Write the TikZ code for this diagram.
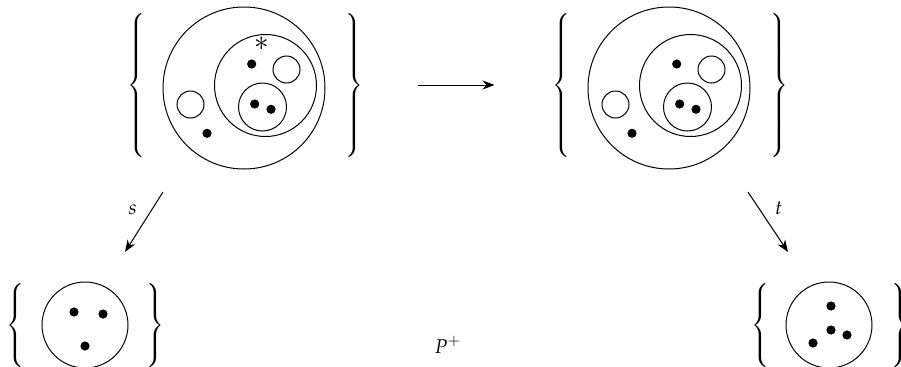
\documentclass[tikz,border=0pt]{standalone}
\usepackage{amsmath,amssymb}
\usepackage{mathpazo}
\DeclareSymbolFont{largesymbols}{OMX}{cmex}{m}{n}
\DeclareMathDelimiter{\lbrace}{\mathopen}{symbols}{"66}{largesymbols}{"08}
\DeclareMathDelimiter{\rbrace}{\mathclose}{symbols}{"67}{largesymbols}{"09}
\usetikzlibrary{positioning,arrows.meta,quotes}

\newcommand{\lset}[1]{$\left\lbrace\vrule height #1 depth #1 width 0pt\right.$}
\newcommand{\rset}[1]{$\left.\vrule height #1 depth #1 width 0pt\right\rbrace$}

\begin{document}
\begin{tikzpicture}[x=0.5pt, y=0.5pt, ->, >={Stealth[length=6pt, width=4.5pt]}, set/.style = {circle, draw, line width=0.5pt, inner sep=0pt, minimum size=81pt}, sub/.style = {circle, draw, line width=0.5pt, inner sep=0pt}, hole/.style = {sub, minimum size=13.5pt}, elem/.style = {circle, fill, inner sep=0pt, minimum size=4.6pt}, brace/.style = {inner sep=0pt}, every edge/.append style={line width=0.5pt}]

\useasboundingbox (0,0) rectangle (901,366);

\begin{scope}[shift = {(244,278)}]
\node[set] (L) at (0,0) {};
\node[sub, minimum size=51pt] (Lm) at (21.5,2.5) {};
\node[sub, minimum size=24pt] (Li) at (18.5,-19) {};
\node[hole] (Lh1) at (42.5,18.5) {};
\node[hole] (Lh2) at (-53.5,-16.5) {};
\node[elem] (Le1) at (7.7,24) {};
\node[elem] (Le2) at (10.7,-16) {};
\node[elem] (Le3) at (27,-21.3) {};
\node[elem] (Le4) at (-37,-45.3) {};
\node[inner sep=0pt, scale=1.4] (Lstar) at (17.7,44.5) {$*$};
\node[brace] (Llb) at (-106.5,2) {\lset{34pt}};
\node[brace] (Lrb) at (109.5,2) {\rset{34pt}};
\end{scope}

\begin{scope}[shift = {(669,278)}]
\node[set] (R) at (0,0) {};
\node[sub, minimum size=51pt] (Rm) at (21.5,2.5) {};
\node[sub, minimum size=24pt] (Ri) at (18.5,-19) {};
\node[hole] (Rh1) at (42.5,18.5) {};
\node[hole] (Rh2) at (-53.5,-16.5) {};
\node[elem] (Re1) at (7.7,24) {};
\node[elem] (Re2) at (10.7,-16) {};
\node[elem] (Re3) at (27,-21.3) {};
\node[elem] (Re4) at (-37,-45.3) {};
\node[brace] (Rlb) at (-106.5,2) {\lset{34pt}};
\node[brace] (Rrb) at (109.5,2) {\rset{34pt}};
\end{scope}

\begin{scope}[shift = {(85,41)}]
\node[sub, minimum size=43pt] (S) at (0,0) {};
\node[elem] (Se1) at (-11,13) {};
\node[elem] (Se2) at (18,11) {};
\node[elem] (Se3) at (0,-21) {};
\node[brace] (Slb) at (-68,-1) {\lset{19pt}};
\node[brace] (Srb) at (69,-1) {\rset{19pt}};
\end{scope}

\begin{scope}[shift = {(829,41)}]
\node[sub, minimum size=43pt] (T) at (0,0) {};
\node[elem] (Te1) at (2,19) {};
\node[elem] (Te2) at (2,-5) {};
\node[elem] (Te3) at (18,-10) {};
\node[elem] (Te4) at (-16,-18) {};
\node[brace] (Tlb) at (-67.5,-1) {\lset{19pt}};
\node[brace] (Trb) at (70.5,-1) {\rset{19pt}};
\end{scope}

\node (P) at (448,21) {$P^{+}$};

\coordinate (s0) at (163,174);
\coordinate (s1) at (125,114);
\coordinate (t0) at (748,174);
\coordinate (t1) at (788,114);

\path
 ([yshift=1.5pt]L.east) edge[shorten <=46pt, shorten >=46.5pt] ([yshift=1.5pt]R.west)
 (s0) edge["$s$"'] (s1)
 (t0) edge["$t$"] (t1);
\end{tikzpicture}
\end{document}
